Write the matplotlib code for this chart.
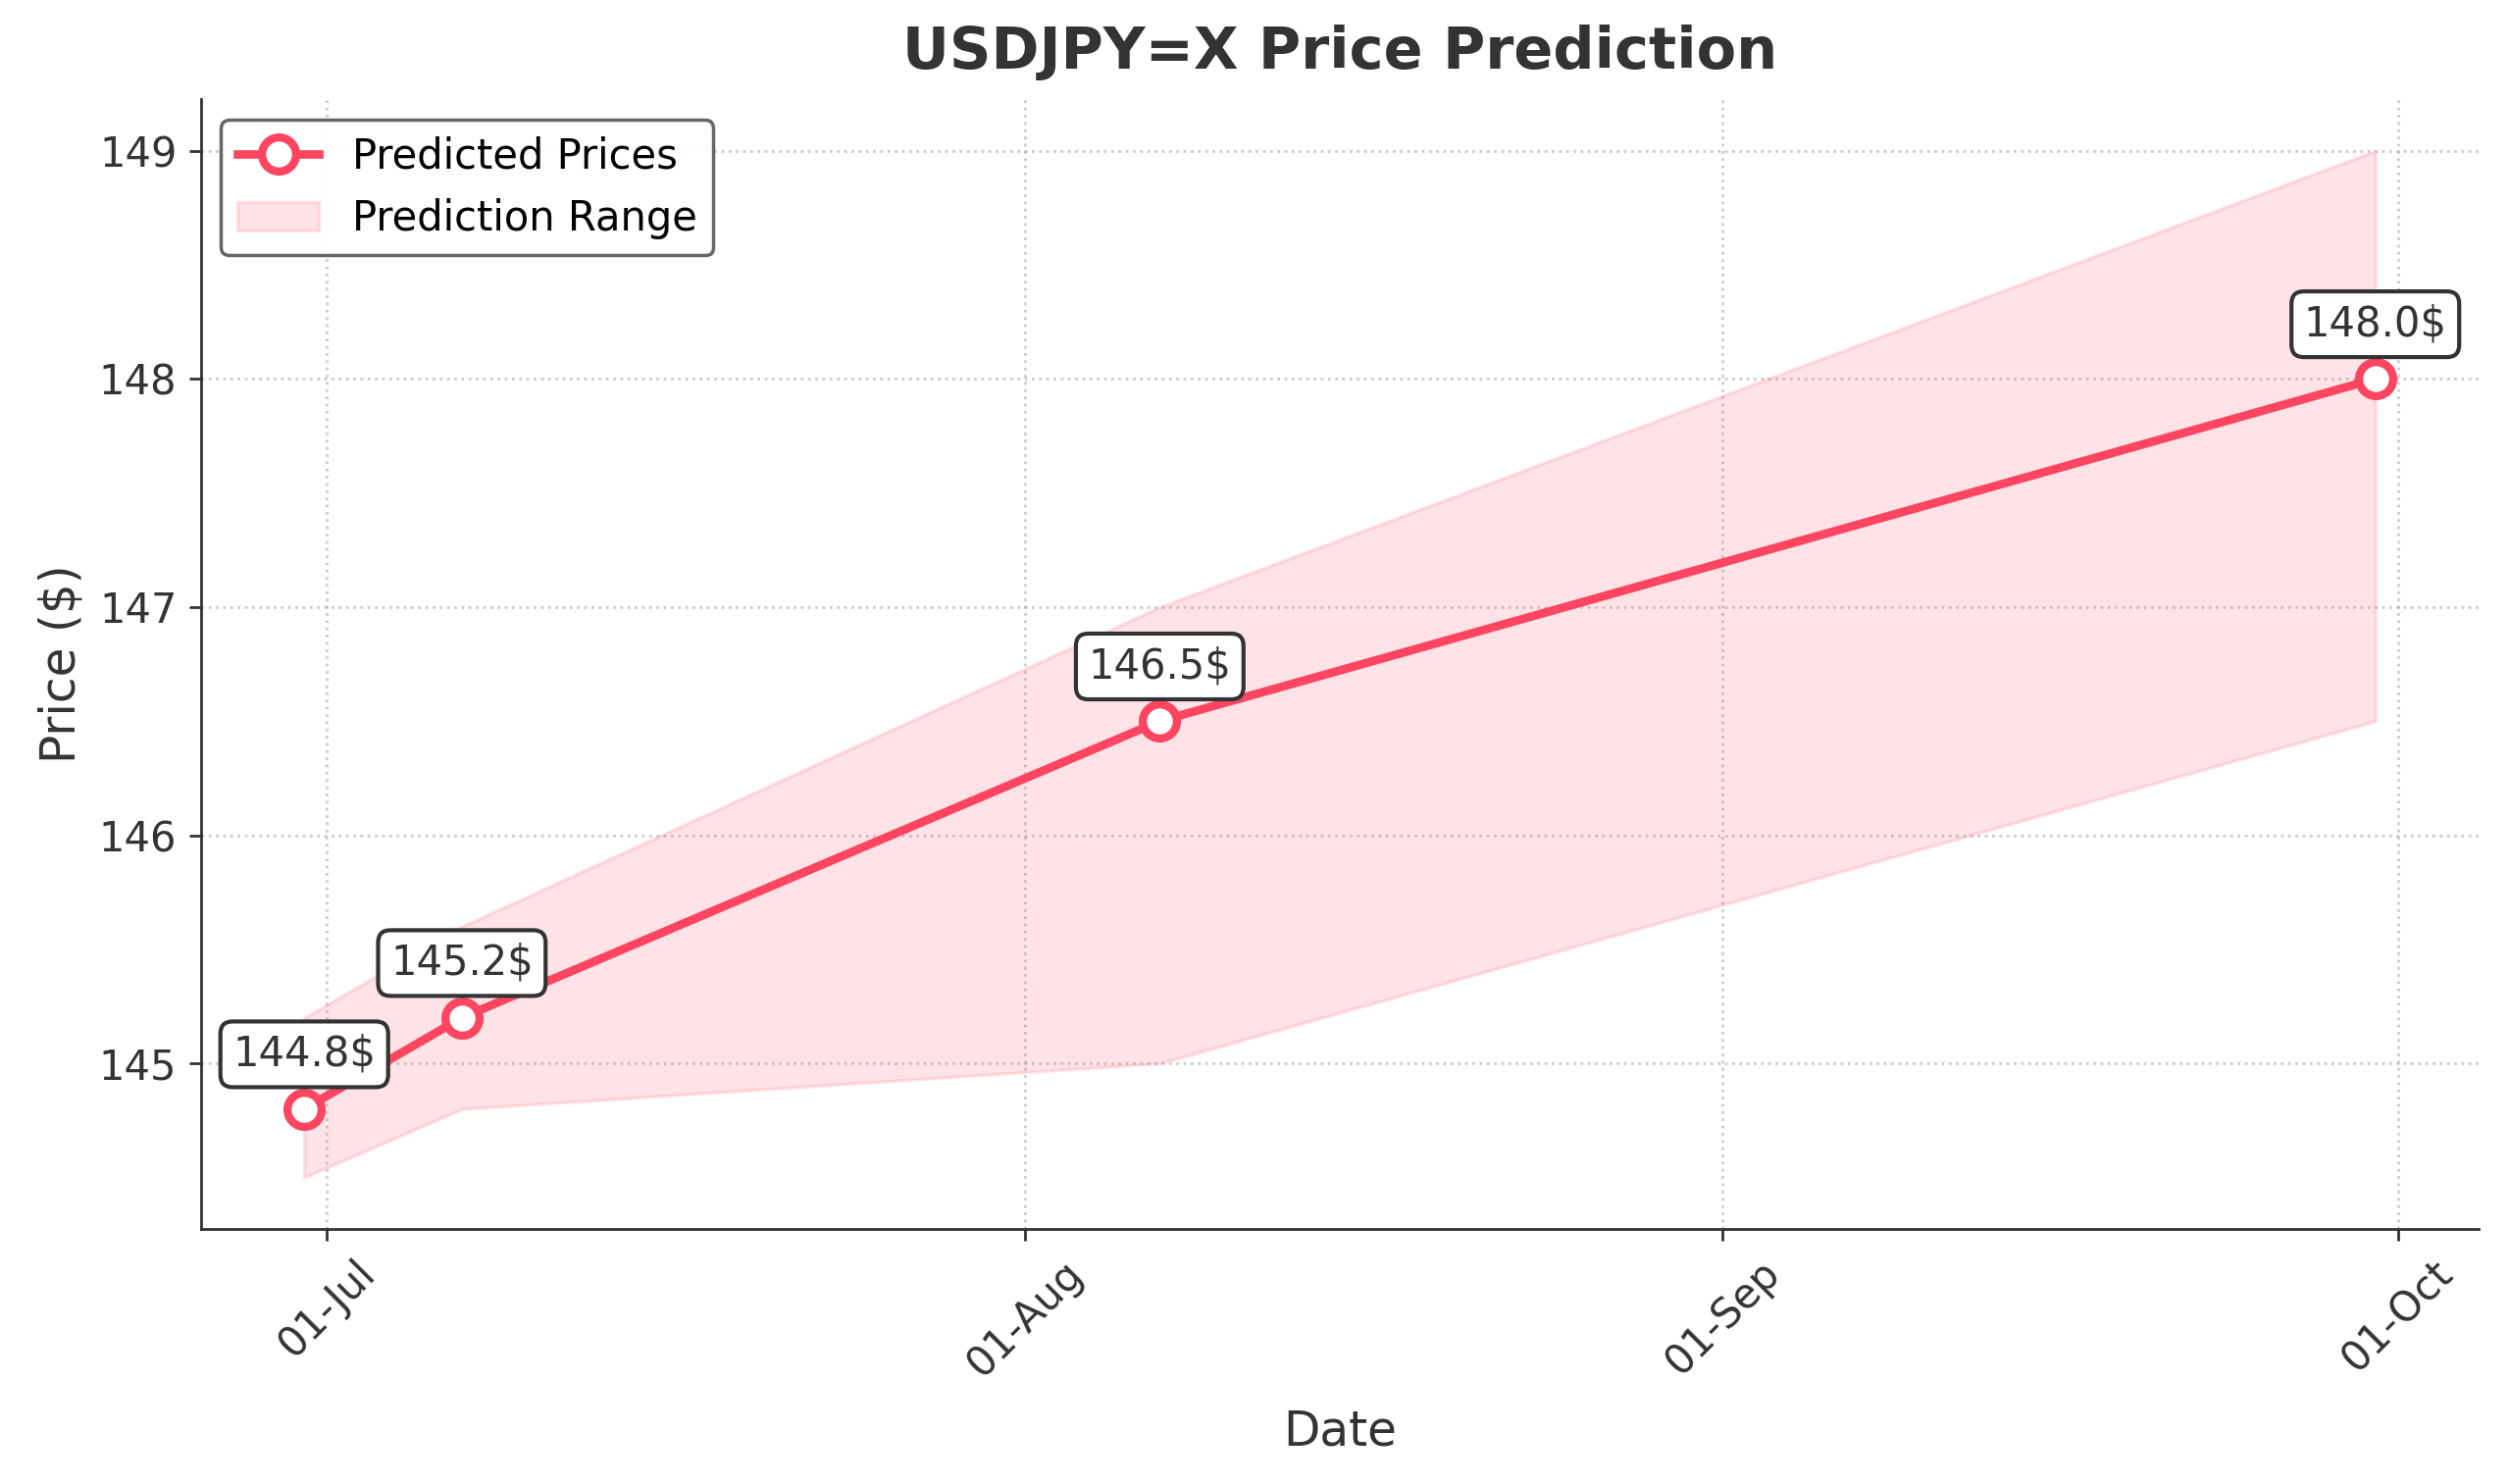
import numpy as np
import pandas as pd
import matplotlib
matplotlib.use("Agg")
import matplotlib.pyplot as plt
import matplotlib.dates as mdates

# 데이터
dates = pd.to_datetime(["2025-06-30", "2025-07-07", "2025-08-07", "2025-09-30"])
predicted = [144.8, 145.2, 146.5, 148.0]
lower = [144.5, 144.8, 145.0, 146.5]
upper = [145.2, 145.6, 147.0, 149.0]
labels = [f"{p:.1f}$" for p in predicted]

line_color = "#FF4560"
text_color = "#333333"

fig = plt.figure(figsize=(2558 / 250, 1513 / 250), dpi=250)
ax = fig.add_subplot(111)
fig.subplots_adjust(left=0.080, right=0.988, bottom=0.172, top=0.933)

# 예측 가격
ax.plot(dates, predicted, color=line_color, linewidth=2.5, marker="o", markersize=10,
        markerfacecolor="white", markeredgecolor=line_color, markeredgewidth=2.4,
        label="Predicted Prices", zorder=3)

# 예측 범위
ax.fill_between(dates, lower, upper, color=line_color, alpha=0.15, label="Prediction Range")

# 값 표시
for d, p, t in zip(dates, predicted, labels):
    ax.annotate(t, (d, p), xytext=(0, 10), textcoords="offset points", ha="center", va="bottom",
                fontsize=12, color=text_color,
                bbox=dict(boxstyle="round,pad=0.3", facecolor="white", edgecolor=text_color, linewidth=1.2))

ax.set_title("USDJPY=X Price Prediction", fontsize=17, fontweight="bold", color=text_color, pad=9)
ax.set_xlabel("Date", fontsize=14, color=text_color, labelpad=7)
ax.set_ylabel("Price ($)", fontsize=14, color=text_color)

ax.xaxis.set_major_locator(mdates.MonthLocator())
ax.xaxis.set_major_formatter(mdates.DateFormatter("%d-%b"))
plt.setp(ax.get_xticklabels(), rotation=45)
ax.tick_params(colors=text_color, labelsize=12)
ax.yaxis.set_major_locator(plt.MultipleLocator(1))

ax.grid(True, linestyle=":", color="gray", alpha=0.4, linewidth=0.8)
ax.spines["top"].set_visible(False)
ax.spines["right"].set_visible(False)
ax.spines["left"].set_color(text_color)
ax.spines["bottom"].set_color(text_color)

leg = ax.legend(loc="upper left", fontsize=12, frameon=True, edgecolor="#555555", framealpha=0.9)

plt.savefig("out.png", dpi=250)
